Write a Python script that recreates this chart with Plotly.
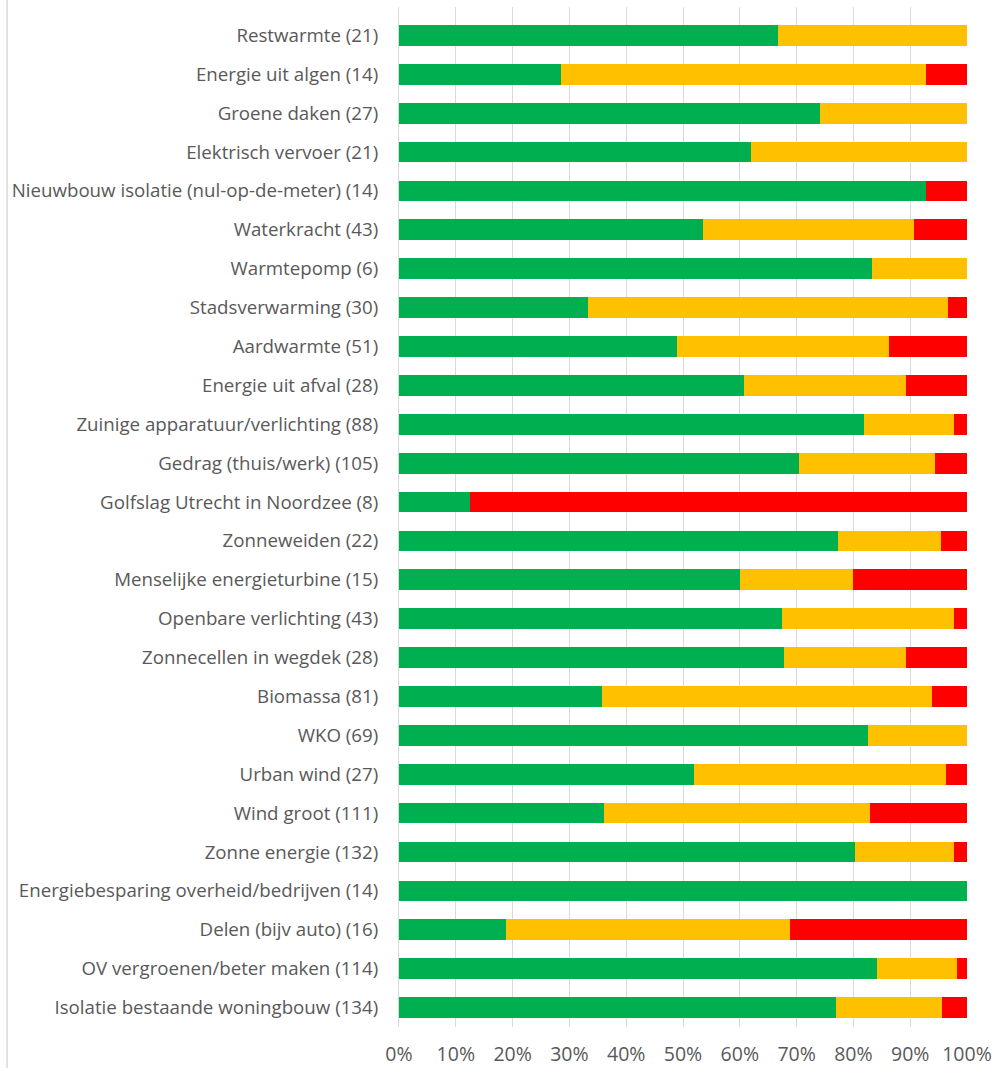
import plotly.graph_objects as go

categories = [
    "Restwarmte (21)",
    "Energie uit algen (14)",
    "Groene daken (27)",
    "Elektrisch vervoer (21)",
    "Nieuwbouw isolatie (nul-op-de-meter) (14)",
    "Waterkracht (43)",
    "Warmtepomp (6)",
    "Stadsverwarming (30)",
    "Aardwarmte (51)",
    "Energie uit afval (28)",
    "Zuinige apparatuur/verlichting (88)",
    "Gedrag (thuis/werk) (105)",
    "Golfslag Utrecht in Noordzee (8)",
    "Zonneweiden (22)",
    "Menselijke energieturbine (15)",
    "Openbare verlichting (43)",
    "Zonnecellen in wegdek (28)",
    "Biomassa (81)",
    "WKO (69)",
    "Urban wind (27)",
    "Wind groot (111)",
    "Zonne energie (132)",
    "Energiebesparing overheid/bedrijven (14)",
    "Delen (bijv auto) (16)",
    "OV vergroenen/beter maken (114)",
    "Isolatie bestaande woningbouw (134)",
]

green = [14, 4, 20, 13, 13, 23, 5, 10, 25, 17, 72, 74, 1, 17, 9, 29, 19, 29, 57, 14, 40, 106, 14, 3, 96, 103]
yellow = [7, 9, 7, 8, 0, 16, 1, 19, 19, 8, 14, 25, 0, 4, 3, 13, 6, 47, 12, 12, 52, 23, 0, 8, 16, 25]
red = [0, 1, 0, 0, 1, 4, 0, 1, 7, 3, 2, 6, 7, 1, 3, 1, 3, 5, 0, 1, 19, 3, 0, 5, 2, 6]

x_ticks = [0, 10, 20, 30, 40, 50, 60, 70, 80, 90, 100]

series = [("Groen", green, "#00B050"), ("Geel", yellow, "#FFC000"), ("Rood", red, "#FF0000")]

fig = go.Figure()
for name, vals, col in series:
    fig.add_trace(go.Bar(
        y=categories, x=vals, name=name, orientation="h",
        marker=dict(color=col, line=dict(width=0)),
        hoverinfo="x+y",
    ))

font_family = "Open Sans, Noto Sans, sans-serif"

fig.update_layout(
    barmode="stack",
    barnorm="percent",
    bargap=0.467,
    width=996, height=1068,
    margin=dict(l=398.5, r=29.4, t=7, b=41.3, autoexpand=False),
    paper_bgcolor="white",
    plot_bgcolor="white",
    showlegend=False,
    font=dict(family=font_family, color="#595959"),
    xaxis=dict(
        range=[0, 100],
        tickvals=x_ticks,
        ticktext=[f"{v}%" for v in x_ticks],
        showgrid=True, gridcolor="#D9D9D9", gridwidth=1,
        zeroline=False,
        showline=False,
        tickfont=dict(size=19.5, color="#595959"),
        ticks="",
        ticklabelstandoff=13,
        automargin=False,
        fixedrange=True,
    ),
    yaxis=dict(
        type="category",
        categoryorder="array",
        categoryarray=categories,
        range=[25.5, -0.73],
        showgrid=False,
        zeroline=False,
        showline=True, linecolor="#D9D9D9", linewidth=1,
        ticks="",
        tickfont=dict(size=18.7, color="#595959"),
        ticklabelstandoff=16,
        automargin=False,
        fixedrange=True,
    ),
    shapes=[
        dict(type="line", xref="paper", yref="paper",
             x0=-0.69, x1=-0.69, y0=-0.0405, y1=1.0069,
             line=dict(color="#D9D9D9", width=1.5)),
    ],
)

fig.write_html(
    "out.html",
    config={"displayModeBar": False, "staticPlot": False},
    post_script="document.body.style.margin='0px';document.body.style.overflow='hidden';",
)
